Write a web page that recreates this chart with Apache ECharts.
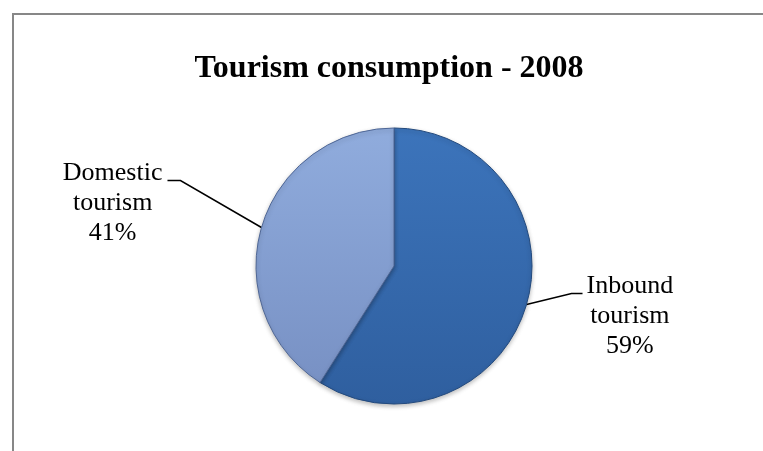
<!DOCTYPE html>
<html>
<head>
<meta charset="utf-8">
<script src="https://cdn.jsdelivr.net/npm/echarts@6/dist/echarts.min.js"></script>
<style>
  html, body { margin: 0; padding: 0; background: #ffffff; }
  #chart { width: 763px; height: 451px; }
</style>
</head>
<body>
<div id="chart"></div>
<script>
// Tourism consumption split, 2008 (percent of total)
const categories = ['Inbound\ntourism', 'Domestic\ntourism'];
const shares = [59, 41];

const sliceColors = [
  { top: '#3c74bb', bottom: '#2f5f9f', rim: '#234a7e' },
  { top: '#90acdd', bottom: '#7891c4', rim: '#4f6796' }
];

// Leader line bends relative to the slice's edge point: [elbow dx, elbow dy, tail length]
const leaderShape = [
  [45, -11, 11],
  [-81, -47, -13]
];

const chart = echarts.init(document.getElementById('chart'), null, { renderer: 'canvas' });

const data = categories.map((name, i) => ({
  name: name,
  value: shares[i],
  itemStyle: {
    color: new echarts.graphic.LinearGradient(0, 0, 0, 1, [
      { offset: 0, color: sliceColors[i].top },
      { offset: 1, color: sliceColors[i].bottom }
    ]),
    borderColor: sliceColors[i].rim,
    borderWidth: 1,
    shadowColor: 'rgba(0,0,0,0.25)',
    shadowBlur: 4,
    shadowOffsetY: 2
  }
}));

chart.setOption({
  backgroundColor: '#ffffff',
  animation: false,
  title: {
    text: 'Tourism consumption - 2008',
    left: 384,
    top: 48,
    textAlign: 'center',
    textStyle: {
      fontFamily: '"Liberation Serif", "Times New Roman", serif',
      fontWeight: 'bold',
      fontSize: 32,
      color: '#000000'
    }
  },
  graphic: [
    {
      type: 'rect',
      shape: { x: 13, y: 14, width: 900, height: 600 },
      style: { fill: 'none', stroke: '#878787', lineWidth: 2 },
      silent: true,
      z: 0
    }
  ],
  series: [
    {
      type: 'pie',
      center: [394, 266],
      radius: 138,
      startAngle: 90,
      clockwise: true,
      data: data,
      label: {
        show: true,
        position: 'outside',
        formatter: '{b}\n{d}%',
        fontFamily: '"Liberation Serif", "Times New Roman", serif',
        fontSize: 26,
        lineHeight: 30,
        color: '#000000',
        align: 'center'
      },
      labelLine: {
        show: true,
        length: 30,
        length2: 12,
        lineStyle: { color: '#000000', width: 1.5 }
      },
      labelLayout: function (params) {
        const p0 = params.labelLinePoints[0];
        const s = leaderShape[params.dataIndex];
        const p1 = [p0[0] + s[0], p0[1] + s[1]];
        const p2 = [p1[0] + s[2], p1[1]];
        const w = params.labelRect.width;
        const right = s[2] > 0;
        return {
          x: right ? p2[0] + 4 + w / 2 : p2[0] - 5 - w / 2,
          y: p2[1] + 23,
          align: 'center',
          verticalAlign: 'middle',
          labelLinePoints: [p0, p1, p2]
        };
      },
      emphasis: { disabled: true }
    }
  ]
});
</script>
</body>
</html>
